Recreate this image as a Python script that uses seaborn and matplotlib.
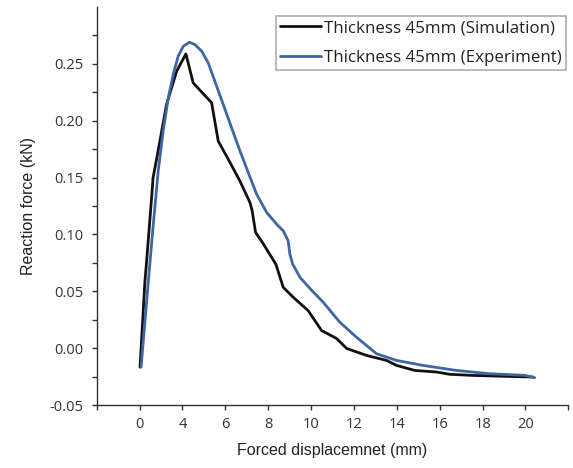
import numpy as np
import pandas as pd
import matplotlib
matplotlib.use("Agg")
import matplotlib.pyplot as plt
import seaborn as sns

# displacement on the chart's own linear scale (left spine = 0, ticks every 2)
sim_x = [2.02, 2.25, 2.33, 2.61, 2.62, 2.86, 3.26, 3.73, 4.16, 4.50, 5.36, 5.67,
         6.13, 6.68, 7.15, 7.25, 7.41, 7.77, 8.36, 8.70, 9.17, 9.86, 10.49, 11.19,
         11.66, 12.59, 13.52, 13.99, 14.84, 15.85, 16.47, 17.56, 19.11, 20.35]
sim_y = [-0.0167, 0.059, 0.077, 0.1445, 0.149, 0.173, 0.2146, 0.2436, 0.2588, 0.2333,
         0.2158, 0.182, 0.1664, 0.147, 0.128, 0.121, 0.1018, 0.0918, 0.0737, 0.0535,
         0.0447, 0.0331, 0.0155, 0.0085, -0.0003, -0.0064, -0.0108, -0.0152, -0.0196,
         -0.021, -0.023, -0.024, -0.0248, -0.0254]

exp_x = [2.07, 2.41, 2.64, 2.87, 3.10, 3.34, 3.57, 3.80, 4.04, 4.32, 4.58, 4.90,
         5.20, 5.51, 5.90, 6.29, 6.68, 7.07, 7.46, 7.93, 8.39, 8.70, 8.93, 9.01,
         9.14, 9.48, 10.04, 10.56, 11.34, 12.12, 13.05, 13.99, 15.23, 16.78, 18.34,
         19.97, 20.43]
exp_y = [-0.0167, 0.0594, 0.1091, 0.1559, 0.1909, 0.2202, 0.2407, 0.2568, 0.2655,
         0.2690, 0.2670, 0.2611, 0.2509, 0.2348, 0.2144, 0.1939, 0.1736, 0.1544,
         0.1354, 0.1193, 0.1091, 0.1032, 0.0945, 0.0828, 0.0740, 0.0623, 0.0506,
         0.0405, 0.0228, 0.0096, -0.0049, -0.0108, -0.0152, -0.0196, -0.0225,
         -0.0239, -0.026]

series_names = ["Thickness 45mm (Simulation)", "Thickness 45mm (Experiment)"]
x_ticks = list(range(0, 23, 2))
x_tick_labels = ["", "0", "4", "6", "8", "10", "12", "14", "16", "18", "20", ""]
y_ticks = [-0.05, 0.0, 0.05, 0.10, 0.15, 0.20, 0.25]
y_minor = [-0.025, 0.025, 0.075, 0.125, 0.175, 0.225, 0.275]

df = pd.concat([
    pd.DataFrame({"x": sim_x, "y": sim_y, "series": series_names[0]}),
    pd.DataFrame({"x": exp_x, "y": exp_y, "series": series_names[1]}),
])

sns.set_style("ticks")
plt.rcParams["font.family"] = ["Open Sans", "DejaVu Sans"]

fig = plt.figure(figsize=(5.73, 4.68), dpi=100)
ax = fig.add_axes([0.1688, 0.1346, 0.8230, 0.8504])

sns.lineplot(data=df, x="x", y="y", hue="series", sort=False, estimator=None,
             palette=["#111111", "#3d66a3"], linewidth=2.0, ax=ax)

ax.set_xlim(0, 22)
ax.set_ylim(-0.05, 0.30)
ax.set_xticks(x_ticks)
ax.set_xticklabels(x_tick_labels)
ax.set_yticks(y_ticks)
ax.set_yticklabels([f"{v:.2f}" for v in y_ticks])
ax.set_yticks(y_minor, minor=True)
ax.tick_params(axis="both", which="both", direction="out", length=3.5, width=1.0,
               color="#333333", labelsize=10.5, labelcolor="#333333")
ax.tick_params(axis="y", pad=6)
ax.tick_params(axis="x", pad=5)

for side in ["top", "right"]:
    ax.spines[side].set_visible(False)
for side in ["left", "bottom"]:
    ax.spines[side].set_color("#333333")
    ax.spines[side].set_linewidth(1.0)

ax.set_xlabel("Forced displacemnet (mm)", family=["Liberation Sans"], fontsize=11.5,
              color="#222222", labelpad=8)
ax.set_ylabel("Reaction force (kN)", family=["Liberation Sans"], fontsize=11.5,
              color="#222222", labelpad=10)

leg = ax.legend(loc="upper left", bbox_to_anchor=(276 / 573, 1 - 16 / 468),
                bbox_transform=fig.transFigure, fontsize=12.2, frameon=True,
                fancybox=False, handlelength=2.4, handletextpad=0.2,
                borderpad=0.25, labelspacing=0.8, borderaxespad=0)
leg.get_frame().set_edgecolor("#9a9a9a")
leg.get_frame().set_linewidth(1.2)
for t in leg.get_texts():
    t.set_color("#222222")

fig.savefig("out.png", dpi=100)
